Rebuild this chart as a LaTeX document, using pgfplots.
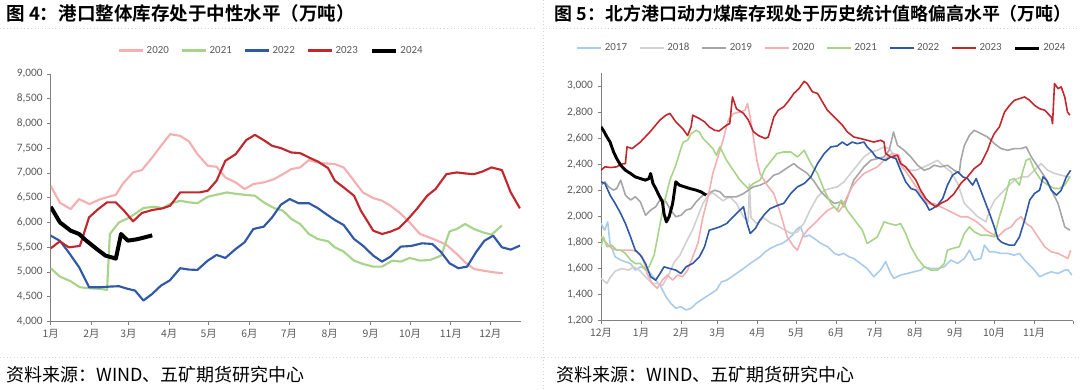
\documentclass[border=0pt]{standalone}
\usepackage{pgfplots}
\pgfplotsset{compat=1.18}
\usepackage{fontspec}
\setmainfont{Carlito}
\newfontfamily\cjk{Noto Sans CJK SC}
\newfontfamily\cjkb{Noto Sans CJK SC Bold}
\definecolor{c17}{HTML}{A9CCEC}
\definecolor{c18}{HTML}{D0D0D0}
\definecolor{c19}{HTML}{A6A6A6}
\definecolor{c20}{HTML}{F4B0B0}
\definecolor{c21}{HTML}{A8D48A}
\definecolor{c22}{HTML}{2F58A6}
\definecolor{c23}{HTML}{C0282E}
\definecolor{tk}{HTML}{595959}
\definecolor{ax}{HTML}{808080}
\definecolor{sep}{HTML}{D4D4D4}
\pgfplotsset{
  base/.style={
    scale only axis,
    axis x line*=bottom, axis y line*=left,
    axis line style={-, ax, line width=0.75pt},
    tick style={ax, line width=0.6pt},
    major tick length=2.5pt,
    tick align=outside,
    x tick label style={font=\cjk\fontsize{7.8}{9}\selectfont, text=tk},
    y tick label style={font=\fontsize{8.5}{10}\selectfont, text=tk},
    /pgf/number format/assume math mode=true,
    /pgf/number format/1000 sep={,},
    scaled y ticks=false,
    legend style={draw=none, fill=none, font=\fontsize{8.2}{10}\selectfont, text=tk,
      legend columns=-1,
      /tikz/every odd column/.append style={column sep=0pt},
      /tikz/every even column/.append style={column sep=7pt}},
    legend image code/.code={\draw[##1] (0pt,0pt) -- (18pt,0pt);},
    every axis plot/.append style={line join=round},
  }
}
\begin{document}
\begin{tikzpicture}
\path[use as bounding box] (0,0) rectangle (810pt,291.75pt);
% frame decorations
\draw[sep, dotted, line width=0.6pt] (0,270.75pt) -- (402pt,270.75pt);
\draw[sep, dotted, line width=0.6pt] (409.5pt,270.75pt) -- (810pt,270.75pt);
\draw[sep, dotted, line width=0.6pt] (407.25pt,0) -- (407.25pt,291.75pt);
\draw[sep, dotted, line width=0.6pt] (0,24pt) -- (810pt,24pt);
\node[anchor=west, inner sep=0pt] at (4.5pt,281.6pt) {\cjkb\fontsize{13.9}{15}\selectfont 图 4：港口整体库存处于中性水平（万吨）};
\node[anchor=west, inner sep=0pt] at (416pt,281.6pt) {\cjkb\fontsize{13.45}{15}\selectfont 图 5：北方港口动力煤库存现处于历史统计值略偏高水平（万吨）};
\node[anchor=west, inner sep=0pt] at (4.5pt,10.5pt) {\cjk\fontsize{13.5}{15}\selectfont 资料来源：WIND、五矿期货研究中心};
\node[anchor=west, inner sep=0pt] at (417pt,10.5pt) {\cjk\fontsize{13.5}{15}\selectfont 资料来源：WIND、五矿期货研究中心};

% ---------------- left chart ----------------
\begin{axis}[base, at={(38.03pt,50.63pt)}, anchor=south west,
  width=352.5pt, height=185.6pt,
  xmin=1, xmax=12.76, ymin=4000, ymax=9000,
  ytick={4000,4500,...,9000},
  xtick={1,2.021,2.943,3.964,4.953,5.974,6.962,7.983,9.004,9.992,11.013,12},
  xticklabels={1月,2月,3月,4月,5月,6月,7月,8月,9月,10月,11月,12月},
  legend style={at={(0.470,1.095)}, anchor=center},
]
\addplot[c20, line width=1.6pt] coordinates {
(1.00,6743)(1.23,6400)(1.50,6272)(1.71,6474)(1.97,6373)(2.24,6470)(2.45,6520)(2.63,6561)(2.80,6777)(3.06,7012)(3.28,7059)(3.54,7314)(3.76,7550)(3.99,7785)(4.24,7750)(4.46,7637)(4.67,7382)(4.93,7146)(5.15,7126)(5.37,6910)(5.63,6810)(5.85,6676)(6.07,6777)(6.33,6810)(6.59,6877)(6.81,6977)(7.02,7079)(7.24,7113)(7.46,7261)(7.68,7213)(7.89,7193)(8.11,7180)(8.33,7113)(8.59,6844)(8.81,6608)(9.07,6494)(9.29,6440)(9.50,6340)(9.72,6205)(9.94,6037)(10.24,5768)(10.50,5690)(10.77,5600)(10.90,5550)(11.16,5365)(11.37,5197)(11.59,5062)(11.81,5029)(12.07,4995)(12.31,4975)};
\addlegendentry{2020}
\addplot[c21, line width=1.6pt] coordinates {
(1.00,5075)(1.23,4908)(1.50,4813)(1.73,4692)(1.96,4672)(2.24,4659)(2.41,4639)(2.48,5768)(2.71,6003)(2.98,6104)(3.32,6292)(3.58,6319)(3.80,6292)(4.02,6387)(4.24,6440)(4.46,6407)(4.67,6390)(4.93,6521)(5.15,6561)(5.41,6608)(5.63,6580)(5.85,6561)(6.11,6541)(6.33,6407)(6.59,6292)(6.81,6239)(7.02,6071)(7.24,5970)(7.46,5768)(7.68,5667)(7.94,5620)(8.11,5499)(8.33,5412)(8.59,5230)(8.81,5163)(9.07,5109)(9.29,5109)(9.55,5230)(9.76,5210)(9.98,5284)(10.24,5230)(10.50,5244)(10.77,5331)(10.98,5821)(11.16,5869)(11.37,5970)(11.59,5869)(11.81,5802)(12.03,5755)(12.29,5940)};
\addlegendentry{2021}
\addplot[c22, line width=1.6pt] coordinates {
(1.00,5735)(1.23,5630)(1.45,5398)(1.71,5096)(1.96,4692)(2.24,4692)(2.50,4706)(2.71,4713)(2.93,4659)(3.11,4625)(3.32,4424)(3.54,4558)(3.76,4726)(3.98,4830)(4.24,5076)(4.46,5049)(4.67,5042)(4.93,5230)(5.15,5345)(5.37,5284)(5.63,5466)(5.85,5600)(6.07,5869)(6.33,5916)(6.54,6104)(6.76,6360)(6.98,6474)(7.20,6390)(7.46,6390)(7.68,6292)(7.89,6172)(8.11,6050)(8.33,5950)(8.59,5667)(8.81,5533)(9.07,5331)(9.29,5210)(9.50,5311)(9.76,5513)(10.02,5526)(10.29,5580)(10.55,5566)(10.77,5398)(10.98,5176)(11.20,5076)(11.42,5109)(11.64,5398)(11.85,5630)(12.07,5735)(12.29,5499)(12.51,5452)(12.74,5533)};
\addlegendentry{2022}
\addplot[c23, line width=1.6pt] coordinates {
(1.00,5479)(1.23,5620)(1.45,5499)(1.73,5526)(1.96,6104)(2.19,6272)(2.41,6407)(2.63,6407)(2.85,6225)(3.06,6023)(3.28,6192)(3.54,6252)(3.80,6286)(3.99,6340)(4.24,6608)(4.46,6608)(4.72,6608)(4.93,6642)(5.15,6844)(5.37,7247)(5.63,7382)(5.89,7664)(6.11,7771)(6.33,7664)(6.54,7550)(6.76,7503)(7.02,7415)(7.24,7402)(7.46,7314)(7.68,7234)(7.94,7099)(8.11,6844)(8.33,6709)(8.59,6541)(8.76,6239)(8.89,6071)(9.07,5835)(9.29,5768)(9.50,5815)(9.72,5889)(9.94,6071)(10.16,6272)(10.42,6541)(10.63,6676)(10.90,6977)(11.16,7012)(11.37,6991)(11.59,6977)(11.81,7032)(12.03,7113)(12.29,7059)(12.51,6608)(12.74,6286)};
\addlegendentry{2023}
\addplot[black, line width=3pt] coordinates {
(1.00,6319)(1.23,6003)(1.50,5835)(1.71,5768)(1.89,5634)(2.15,5466)(2.37,5331)(2.55,5290)(2.63,5270)(2.76,5768)(2.93,5634)(3.15,5660)(3.35,5700)(3.54,5740)};
\addlegendentry{2024}
\end{axis}

% ---------------- right chart ----------------
\begin{axis}[base, at={(450.75pt,51.23pt)}, anchor=south west,
  width=354pt, height=185.8pt,
  xmin=0, xmax=11.99, ymin=1200, ymax=3100,
  ytick={1200,1400,...,3000},
  xtick={0,1.018,2.036,2.956,3.974,4.959,5.977,6.962,7.980,8.998,9.984,11,11.99},
  xticklabels={12月,1月,2月,3月,4月,5月,6月,7月,8月,9月,10月,11月,{}},
  legend style={at={(0.469,1.100)}, anchor=center},
]
\addplot[c17, line width=1.2pt] coordinates {
(0.00,1945)(0.09,1894)(0.17,1958)(0.23,1792)(0.36,1690)(0.50,1665)(0.62,1652)(0.75,1639)(0.87,1588)(1.00,1613)(1.13,1600)(1.26,1562)(1.39,1511)(1.52,1460)(1.65,1384)(1.77,1333)(1.90,1296)(2.03,1307)(2.16,1282)(2.29,1296)(2.42,1333)(2.54,1358)(2.67,1384)(2.80,1409)(2.93,1435)(3.06,1498)(3.19,1511)(3.32,1537)(3.44,1562)(3.62,1600)(3.79,1639)(3.92,1665)(4.04,1690)(4.17,1728)(4.30,1754)(4.47,1779)(4.60,1792)(4.73,1818)(4.86,1856)(4.99,1907)(5.07,1920)(5.16,1843)(5.29,1856)(5.42,1830)(5.59,1792)(5.76,1767)(5.93,1716)(6.04,1703)(6.17,1716)(6.30,1690)(6.42,1677)(6.59,1639)(6.76,1600)(6.93,1537)(7.10,1588)(7.23,1652)(7.36,1562)(7.44,1524)(7.61,1550)(7.78,1562)(7.95,1575)(8.12,1588)(8.21,1613)(8.38,1600)(8.55,1600)(8.72,1613)(8.89,1665)(9.06,1639)(9.23,1677)(9.36,1741)(9.48,1665)(9.65,1677)(9.74,1779)(9.87,1728)(9.99,1728)(10.16,1716)(10.33,1716)(10.50,1703)(10.63,1716)(10.76,1665)(10.93,1613)(11.01,1588)(11.14,1537)(11.32,1562)(11.44,1575)(11.61,1562)(11.78,1588)(11.86,1590)(11.96,1550)};
\addlegendentry{2017}
\addplot[c18, line width=1.2pt] coordinates {
(0.00,1524)(0.15,1486)(0.23,1530)(0.36,1580)(0.53,1600)(0.70,1588)(0.83,1613)(0.96,1590)(1.13,1537)(1.30,1486)(1.43,1486)(1.56,1470)(1.73,1560)(1.86,1650)(2.00,1700)(2.16,1800)(2.33,1900)(2.46,2000)(2.59,2099)(2.72,2160)(2.84,2180)(2.97,2150)(3.10,2120)(3.27,2150)(3.44,2099)(3.62,1997)(3.74,1960)(3.77,2250)(3.81,1990)(3.96,1945)(4.13,1990)(4.30,1950)(4.47,1930)(4.64,1900)(4.82,1870)(4.99,1880)(5.16,1950)(5.33,2060)(5.50,2150)(5.67,2200)(5.84,2215)(6.00,2226)(6.17,2265)(6.34,2329)(6.51,2392)(6.68,2456)(6.85,2494)(7.02,2507)(7.19,2533)(7.32,2520)(7.49,2450)(7.66,2367)(7.83,2354)(8.00,2354)(8.21,2380)(8.38,2405)(8.55,2430)(8.72,2380)(8.89,2342)(9.06,2252)(9.23,2099)(9.40,2048)(9.57,1997)(9.78,1958)(9.87,2048)(10.00,2125)(10.16,2175)(10.33,2227)(10.50,2278)(10.67,2303)(10.84,2303)(11.01,2354)(11.18,2405)(11.35,2354)(11.52,2329)(11.69,2316)(11.85,2303)(11.93,2303)};
\addlegendentry{2018}
\addplot[c19, line width=1.2pt] coordinates {
(0.00,2239)(0.10,2265)(0.19,2227)(0.32,2201)(0.40,2214)(0.50,2278)(0.62,2163)(0.75,2125)(0.87,2150)(1.00,2112)(1.13,2009)(1.26,2048)(1.39,2073)(1.52,2137)(1.65,2112)(1.77,2048)(1.90,1997)(2.03,2009)(2.16,2048)(2.29,2060)(2.42,2112)(2.59,2163)(2.72,2175)(2.89,2201)(3.02,2188)(3.14,2150)(3.27,2150)(3.44,2150)(3.62,2175)(3.74,2201)(3.87,2227)(4.04,2239)(4.22,2265)(4.39,2316)(4.52,2329)(4.64,2354)(4.77,2380)(4.90,2405)(4.99,2380)(5.12,2354)(5.24,2329)(5.42,2265)(5.59,2188)(5.76,2137)(5.93,2099)(6.10,2112)(6.17,2073)(6.42,2278)(6.68,2380)(6.85,2430)(7.02,2443)(7.19,2456)(7.32,2507)(7.43,2647)(7.53,2545)(7.70,2507)(7.87,2456)(8.04,2392)(8.21,2354)(8.34,2367)(8.46,2392)(8.63,2380)(8.80,2392)(8.97,2354)(9.10,2329)(9.14,2430)(9.23,2545)(9.36,2622)(9.48,2660)(9.65,2635)(9.82,2609)(9.99,2558)(10.16,2520)(10.33,2507)(10.50,2520)(10.67,2520)(10.80,2533)(10.93,2456)(11.10,2380)(11.27,2303)(11.44,2201)(11.61,2099)(11.78,1920)(11.91,1894)};
\addlegendentry{2019}
\addplot[c20, line width=1.2pt] coordinates {
(0.00,1843)(0.15,1792)(0.27,1754)(0.40,1741)(0.53,1741)(0.66,1741)(0.79,1741)(0.92,1728)(1.05,1690)(1.17,1562)(1.30,1486)(1.43,1448)(1.56,1511)(1.69,1550)(1.82,1511)(1.95,1550)(2.07,1537)(2.20,1588)(2.33,1690)(2.46,1792)(2.59,1997)(2.72,2150)(2.84,2329)(2.97,2456)(3.10,2584)(3.23,2737)(3.36,2788)(3.53,2801)(3.66,2814)(3.72,2865)(3.79,2762)(3.87,2609)(3.96,2430)(4.04,2329)(4.22,2240)(4.39,2175)(4.56,2022)(4.73,1843)(4.90,1767)(4.99,1741)(5.12,1843)(5.24,1894)(5.42,1945)(5.59,1997)(5.76,2048)(5.93,2073)(6.04,2035)(6.13,2073)(6.25,2150)(6.38,2227)(6.51,2278)(6.68,2329)(6.85,2354)(7.02,2380)(7.19,2430)(7.32,2469)(7.40,2482)(7.57,2470)(7.66,2380)(7.78,2329)(7.95,2252)(8.12,2175)(8.29,2099)(8.46,2099)(8.63,2073)(8.80,2048)(8.97,2022)(9.14,1997)(9.31,1997)(9.48,1971)(9.65,1932)(9.78,1894)(9.91,1869)(10.08,1843)(10.25,1894)(10.42,1920)(10.55,1971)(10.67,1997)(10.80,1945)(10.93,1920)(11.10,1843)(11.27,1767)(11.44,1728)(11.61,1716)(11.78,1690)(11.86,1677)(11.93,1741)};
\addlegendentry{2020}
\addplot[c21, line width=1.2pt] coordinates {
(0.00,1767)(0.06,1843)(0.15,1767)(0.27,1779)(0.40,1741)(0.50,1741)(0.62,1716)(0.75,1665)(0.87,1639)(1.00,1639)(1.13,1588)(1.22,1613)(1.35,1703)(1.47,1894)(1.60,2099)(1.75,2278)(1.90,2392)(2.03,2520)(2.09,2570)(2.20,2584)(2.29,2635)(2.42,2660)(2.50,2647)(2.59,2597)(2.72,2558)(2.84,2520)(2.93,2469)(3.02,2533)(3.19,2430)(3.36,2354)(3.53,2278)(3.74,2214)(3.87,2252)(4.04,2278)(4.17,2367)(4.30,2418)(4.47,2482)(4.64,2494)(4.82,2494)(4.99,2456)(5.16,2507)(5.33,2405)(5.50,2329)(5.67,2201)(5.84,2099)(6.00,2048)(6.10,2125)(6.17,2099)(6.25,2048)(6.38,1997)(6.51,1945)(6.64,1894)(6.76,1792)(6.89,1817)(7.02,1843)(7.19,1958)(7.32,1945)(7.49,1932)(7.61,1945)(7.74,1869)(7.87,1767)(8.04,1677)(8.21,1613)(8.38,1588)(8.55,1588)(8.72,1639)(8.80,1741)(8.93,1754)(9.10,1767)(9.23,1869)(9.36,1920)(9.48,1882)(9.65,1856)(9.82,1856)(9.99,1843)(10.12,1997)(10.25,2125)(10.38,2278)(10.50,2290)(10.63,2240)(10.72,2354)(10.80,2430)(10.89,2443)(11.01,2354)(11.18,2278)(11.35,2240)(11.52,2214)(11.65,2214)(11.78,2240)(11.91,2303)};
\addlegendentry{2021}
\addplot[c22, line width=1.2pt] coordinates {
(0.00,2265)(0.10,2252)(0.23,2163)(0.36,2099)(0.50,2022)(0.62,1945)(0.75,1843)(0.87,1741)(1.00,1703)(1.13,1639)(1.26,1537)(1.39,1511)(1.50,1562)(1.60,1613)(1.75,1600)(1.90,1588)(2.03,1562)(2.16,1613)(2.33,1639)(2.50,1690)(2.63,1767)(2.75,1894)(2.89,1907)(3.02,1920)(3.19,1945)(3.36,1997)(3.53,2048)(3.62,2073)(3.70,1958)(3.79,1869)(3.92,1907)(4.04,1971)(4.17,2022)(4.30,2060)(4.50,2086)(4.64,2099)(4.82,2175)(4.99,2226)(5.16,2252)(5.33,2303)(5.50,2405)(5.67,2482)(5.84,2533)(6.00,2540)(6.13,2570)(6.25,2545)(6.38,2570)(6.51,2558)(6.68,2570)(6.76,2533)(6.89,2494)(6.98,2456)(7.10,2443)(7.23,2430)(7.36,2456)(7.49,2443)(7.61,2354)(7.74,2265)(7.87,2214)(8.00,2201)(8.12,2150)(8.25,2099)(8.34,2048)(8.42,2060)(8.55,2086)(8.68,2137)(8.80,2240)(8.93,2316)(9.06,2342)(9.19,2303)(9.31,2290)(9.44,2240)(9.53,2290)(9.61,2227)(9.74,2125)(9.87,2022)(9.99,1920)(10.08,1830)(10.16,1805)(10.25,1792)(10.38,1779)(10.50,1779)(10.63,1843)(10.76,1971)(10.89,2125)(11.01,2175)(11.14,2201)(11.23,2303)(11.32,2278)(11.44,2201)(11.57,2163)(11.69,2201)(11.82,2303)(11.93,2354)};
\addlegendentry{2022}
\addplot[c23, line width=1.2pt] coordinates {
(0.00,2354)(0.10,2380)(0.25,2375)(0.40,2380)(0.50,2400)(0.62,2405)(0.66,2533)(0.79,2520)(1.00,2570)(1.25,2650)(1.50,2740)(1.65,2776)(1.75,2790)(1.90,2725)(2.07,2675)(2.20,2620)(2.29,2690)(2.33,2776)(2.50,2750)(2.63,2725)(2.75,2686)(2.89,2660)(3.00,2655)(3.19,2700)(3.27,2711)(3.34,2916)(3.44,2826)(3.62,2790)(3.74,2740)(3.87,2650)(4.00,2620)(4.17,2597)(4.25,2609)(4.39,2762)(4.50,2814)(4.64,2840)(4.75,2880)(4.90,2943)(5.03,2980)(5.16,3036)(5.24,3018)(5.37,2955)(5.50,2943)(5.75,2814)(6.00,2740)(6.13,2700)(6.25,2650)(6.42,2609)(6.59,2597)(6.76,2584)(6.93,2570)(7.10,2584)(7.19,2570)(7.23,2482)(7.36,2456)(7.53,2469)(7.61,2405)(7.74,2380)(7.87,2330)(8.00,2278)(8.12,2200)(8.25,2137)(8.38,2099)(8.51,2073)(8.63,2099)(8.80,2125)(8.97,2175)(9.14,2252)(9.31,2303)(9.48,2367)(9.65,2405)(9.82,2507)(9.91,2584)(9.99,2635)(10.12,2686)(10.25,2800)(10.38,2852)(10.50,2890)(10.63,2903)(10.76,2916)(10.89,2890)(11.01,2852)(11.14,2826)(11.27,2814)(11.44,2762)(11.47,2711)(11.52,3018)(11.61,2980)(11.69,2993)(11.78,2916)(11.85,2800)(11.91,2776)};
\addlegendentry{2023}
\addplot[black, line width=2.2pt] coordinates {
(0.00,2686)(0.06,2660)(0.15,2609)(0.23,2570)(0.32,2494)(0.40,2443)(0.50,2392)(0.62,2354)(0.75,2329)(0.87,2303)(1.00,2290)(1.13,2278)(1.22,2290)(1.26,2329)(1.32,2252)(1.39,2214)(1.47,2163)(1.56,2112)(1.60,2022)(1.66,1958)(1.73,1997)(1.82,2099)(1.90,2265)(1.99,2240)(2.12,2227)(2.25,2214)(2.42,2201)(2.54,2188)(2.67,2163)};
\addlegendentry{2024}
\end{axis}
\end{tikzpicture}
\end{document}
